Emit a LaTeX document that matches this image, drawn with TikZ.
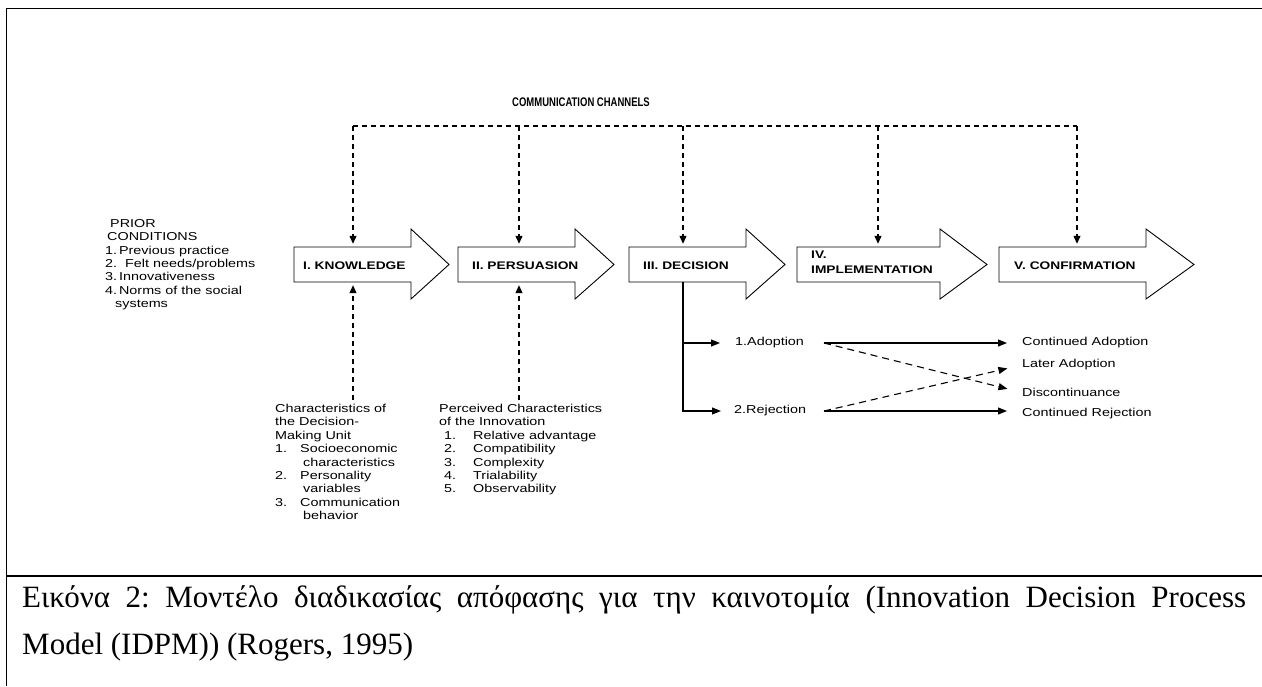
\documentclass[tikz,border=0pt]{standalone}
\usepackage{fontspec}
\setmainfont{Liberation Serif}
\newfontfamily\dfont[FakeStretch=1.25]{Liberation Sans}
\newfontfamily\cfont[FakeStretch=0.76]{Liberation Sans}
\usetikzlibrary{arrows.meta}

\begin{document}
\begin{tikzpicture}[x=1pt,y=-1pt,
  frame/.style={line width=1.5pt},
  stageline/.style={line width=0.9pt, line join=miter},
  body/.style={inner sep=0pt, minimum height=35pt},
  stagelabel/.style={inner sep=0pt, anchor=west, align=left,
    font=\dfont\bfseries\fontsize{11}{15}\selectfont},
  txt/.style={inner sep=0pt, anchor=north west, align=left,
    font=\dfont\fontsize{11.5}{13.4}\selectfont},
  lbl/.style={inner sep=0pt, anchor=west,
    font=\dfont\fontsize{11.5}{13.4}\selectfont},
  chan/.style={dash pattern=on 5pt off 4pt, line width=1.1pt},
  tipa/.style={-{Triangle[length=8pt,width=7pt]}},
  link/.style={line width=1.1pt, -{Triangle[length=9pt,width=7pt]}},
  dlink/.style={line width=1.1pt, dash pattern=on 7pt off 5pt,
    -{Triangle[length=9pt,width=7pt]}},
]
\useasboundingbox (0,0) rectangle (1262,686);

% frame and caption rule
\draw[frame] (6.5,686) -- (6.5,8.5) -- (1262,8.5);
\draw[frame] (6.5,576) -- (1262,576);

% communication channels
\node[inner sep=0pt, font=\cfont\bfseries\fontsize{12.5}{14}\selectfont] (cc) at (581,102) {COMMUNICATION CHANNELS};

% stage arrows
\draw[stageline] (294,247) -- (411,247) -- (411,229) -- (449,264.5) -- (411,299) -- (411,282) -- (294,282) -- cycle;
\node[body, minimum width=117pt] (k) at (352.5,264.5) {};
\draw[stageline] (458,247) -- (575,247) -- (575,229) -- (614,264.5) -- (575,299) -- (575,282) -- (458,282) -- cycle;
\node[body, minimum width=117pt] (p) at (516.5,264.5) {};
\draw[stageline] (629,247) -- (746,247) -- (746,229) -- (785,264.5) -- (746,299) -- (746,282) -- (629,282) -- cycle;
\node[body, minimum width=117pt] (d) at (687.5,264.5) {};
\draw[stageline] (797,247) -- (940,247) -- (940,229) -- (987,264.5) -- (940,299) -- (940,282) -- (797,282) -- cycle;
\node[body, minimum width=143pt] (i) at (868.5,264.5) {};
\draw[stageline] (999,247) -- (1146,247) -- (1146,229) -- (1194,264.5) -- (1146,299) -- (1146,282) -- (999,282) -- cycle;
\node[body, minimum width=147pt] (c) at (1072.5,264.5) {};

\node[stagelabel] (kl) at (303,266) {I. KNOWLEDGE};
\node[stagelabel] (pl) at (472,266) {II. PERSUASION};
\node[stagelabel] (dl) at (643,266) {III. DECISION};
\node[stagelabel] (il) at (811,262) {IV.\\IMPLEMENTATION};
\node[stagelabel] (cl) at (1014,266) {V. CONFIRMATION};

% channels feeding every stage
\coordinate (t1) at (353,126);
\coordinate (t2) at (519,126);
\coordinate (t3) at (683,126);
\coordinate (t4) at (878,126);
\coordinate (t5) at (1077,126);
\draw[chan] (t1) -- (t5);
\foreach \t/\n in {t1/k,t2/p,t3/d,t4/i,t5/c}
  \draw[chan, tipa, shorten >=3pt] (\t) -- (\t |- \n.north);

% prior conditions
\node[txt] (prior) at (105,219) {\hspace*{5pt}PRIOR\\
\hspace*{2pt}CONDITIONS\\
1.\,Previous practice\\
2.\ \ Felt needs/problems\\
3.\,Innovativeness\\
4.\,Norms of the social\\
\hspace*{10pt}systems};

% characteristics of the decision-making unit
\node[txt] (dmu) at (275,404) {Characteristics of\\
the Decision-\\
Making Unit\\
\makebox[25pt][l]{1.}Socioeconomic\\
\hspace*{28pt}characteristics\\
\makebox[25pt][l]{2.}Personality\\
\hspace*{28pt}variables\\
\makebox[25pt][l]{3.}Communication\\
\hspace*{28pt}behavior};

% perceived characteristics of the innovation
\node[txt] (pci) at (439,404) {Perceived Characteristics\\
of the Innovation\\
\hspace*{5pt}\makebox[29pt][l]{1.}Relative advantage\\
\hspace*{5pt}\makebox[29pt][l]{2.}Compatibility\\
\hspace*{5pt}\makebox[29pt][l]{3.}Complexity\\
\hspace*{5pt}\makebox[29pt][l]{4.}Trialability\\
\hspace*{5pt}\makebox[29pt][l]{5.}Observability};

\draw[chan, tipa, shorten <=4pt, shorten >=3pt] (dmu.north -| t1) -- (t1 |- k.south);
\draw[chan, tipa, shorten <=4pt, shorten >=3pt] (pci.north -| t2) -- (t2 |- p.south);

% decision outcomes
\node[lbl] (ad) at (735,343) {1.Adoption};
\node[lbl] (rej) at (734,411) {2.Rejection};
\node[lbl] (ca) at (1022,343) {Continued Adoption};
\node[lbl] (la) at (1022,365) {Later Adoption};
\node[lbl] (dc) at (1022,392.5) {Discontinuance};
\node[lbl] (cr) at (1022,414) {Continued Rejection};

\draw[link, shorten >=13pt] (t3 |- d.south) |- (rej.west);
\draw[link, shorten >=15pt] (t3 |- ad.west) -- (ad.west);

\draw[link, shorten >=15pt] ([xshift=89pt]ad.west) -- (ca.west);
\draw[link, shorten >=15pt] ([xshift=90pt]rej.west) -- (rej.west -| cr.west);
\draw[dlink, shorten >=15pt] ([xshift=89pt]ad.west) -- (dc.west);
\draw[dlink, shorten >=15pt] ([xshift=90pt]rej.west) -- (la.west);

% caption
\node[anchor=north west, inner sep=0pt, text width=1224pt, align=justify,
  font=\fontsize{31}{47}\selectfont\frenchspacing] (cap) at (22,585)
  {Εικόνα 2: Μοντέλο διαδικασίας απόφασης για την καινοτομία (Innovation Decision Process\linebreak Model (IDPM)) (Rogers, 1995)};
\end{tikzpicture}
\end{document}
